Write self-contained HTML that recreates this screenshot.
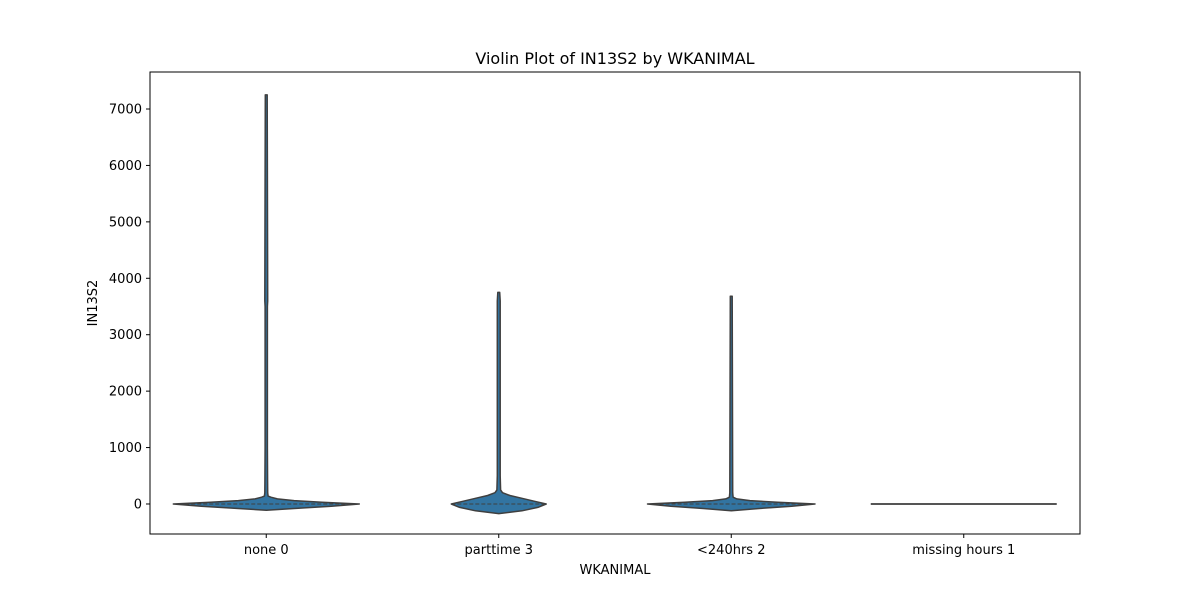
<!DOCTYPE html>
<html><head><meta charset="utf-8"><style>
body{margin:0;background:#fff;font-family:"Liberation Sans","DejaVu Sans",sans-serif;}
svg text{font-family:"DejaVu Sans","Liberation Sans",sans-serif;}
</style></head><body>
<svg id="chart" width="1200" height="600">
<rect width="1200" height="600" fill="#fff"/>
<text x="615" y="64" text-anchor="middle" font-size="16">Violin Plot of IN13S2 by WKANIMAL</text>
<g id="plot"></g>
<text x="615" y="574" text-anchor="middle" font-size="13">WKANIMAL</text>
<text transform="translate(97,303) rotate(-90)" text-anchor="middle" font-size="13">IN13S2</text>
</svg>
<script>
const categories = ["none 0","parttime 3","<240hrs 2","missing hours 1"];
const yTicks = [0,1000,2000,3000,4000,5000,6000,7000];
const v1Values = [-110,-80,-40,0,30,60,90,120,140,200,400,1000,3500,3600,7250];
const v1Widths = [0,0.3,0.7,1,0.6,0.3,0.12,0.05,0.02,0.016,0.014,0.012,0.012,0.016,0.01];
const v2Values = [-170,-120,-60,0,50,100,150,200,250,500,3600,3750];
const v2Widths = [0,0.25,0.42,0.51,0.38,0.25,0.12,0.04,0.02,0.016,0.016,0.01];
const v3Values = [-120,-80,-40,0,30,60,90,120,200,3680];
const v3Widths = [0,0.3,0.65,0.9,0.5,0.2,0.06,0.02,0.016,0.01];
const v4Values = [0,0];
const v4Widths = [1,1];
const violins = [[v1Values,v1Widths],[v2Values,v2Widths],[v3Values,v3Widths],[v4Values,v4Widths]];

const L=150,R=1080,T=72,B=534, yMin=-532, yMax=7656;
const y = v => B - (v - yMin)/(yMax - yMin)*(B - T);
const band = (R-L)/categories.length;
const xc = i => L + band*(i+0.5);
const halfMax = band*0.8/2;
const ns="http://www.w3.org/2000/svg";
const g=document.getElementById('plot');
function mk(t,a){const e=document.createElementNS(ns,t);for(const k in a)e.setAttribute(k,a[k]);g.appendChild(e);return e;}

violins.forEach((vw,i)=>{
  const [vals,ws]=vw, cx=xc(i);
  if(vals[0]===vals[vals.length-1]){
    const e=mk('line',{x1:cx-halfMax*ws[0],x2:cx+halfMax*ws[0],y1:y(vals[0]),y2:y(vals[0]),stroke:'#555',"stroke-width":2});
    
    
    return;
  }
  let right=vals.map((v,k)=>(cx+halfMax*ws[k]).toFixed(1)+','+y(v).toFixed(1));
  let left=vals.map((v,k)=>(cx-halfMax*ws[k]).toFixed(1)+','+y(v).toFixed(1)).reverse();
  const e=mk('polygon',{points:right.concat(left).join(' '),fill:'#3274a1',stroke:'#3f3f3f',"stroke-width":1.5,"stroke-linejoin":'round'});
  
  
  const q=mk('line',{x1:cx-halfMax*ws[3],x2:cx+halfMax*ws[3],y1:y(0),y2:y(0),stroke:'#3f3f3f',"stroke-width":1,"stroke-dasharray":'4,2'});
  
  
});

const frame=mk('rect',{x:L,y:T,width:R-L,height:B-T,fill:'none',stroke:'#000',"stroke-width":1});



yTicks.forEach(t=>{
  const yy=y(t);
  const tk=mk('line',{x1:L-4,x2:L,y1:yy,y2:yy,stroke:'#000'});
  
  
  const tx=mk('text',{x:L-8,y:yy+4.5,"text-anchor":'end',"font-size":13});
  tx.textContent=t;
  
  
});
categories.forEach((c,i)=>{
  const tk=mk('line',{x1:xc(i),x2:xc(i),y1:B,y2:B+4,stroke:'#000'});
  
  
  const tx=mk('text',{x:xc(i),y:B+20,"text-anchor":'middle',"font-size":13});
  tx.textContent=c;
  
  
});
</script>
</body></html>
